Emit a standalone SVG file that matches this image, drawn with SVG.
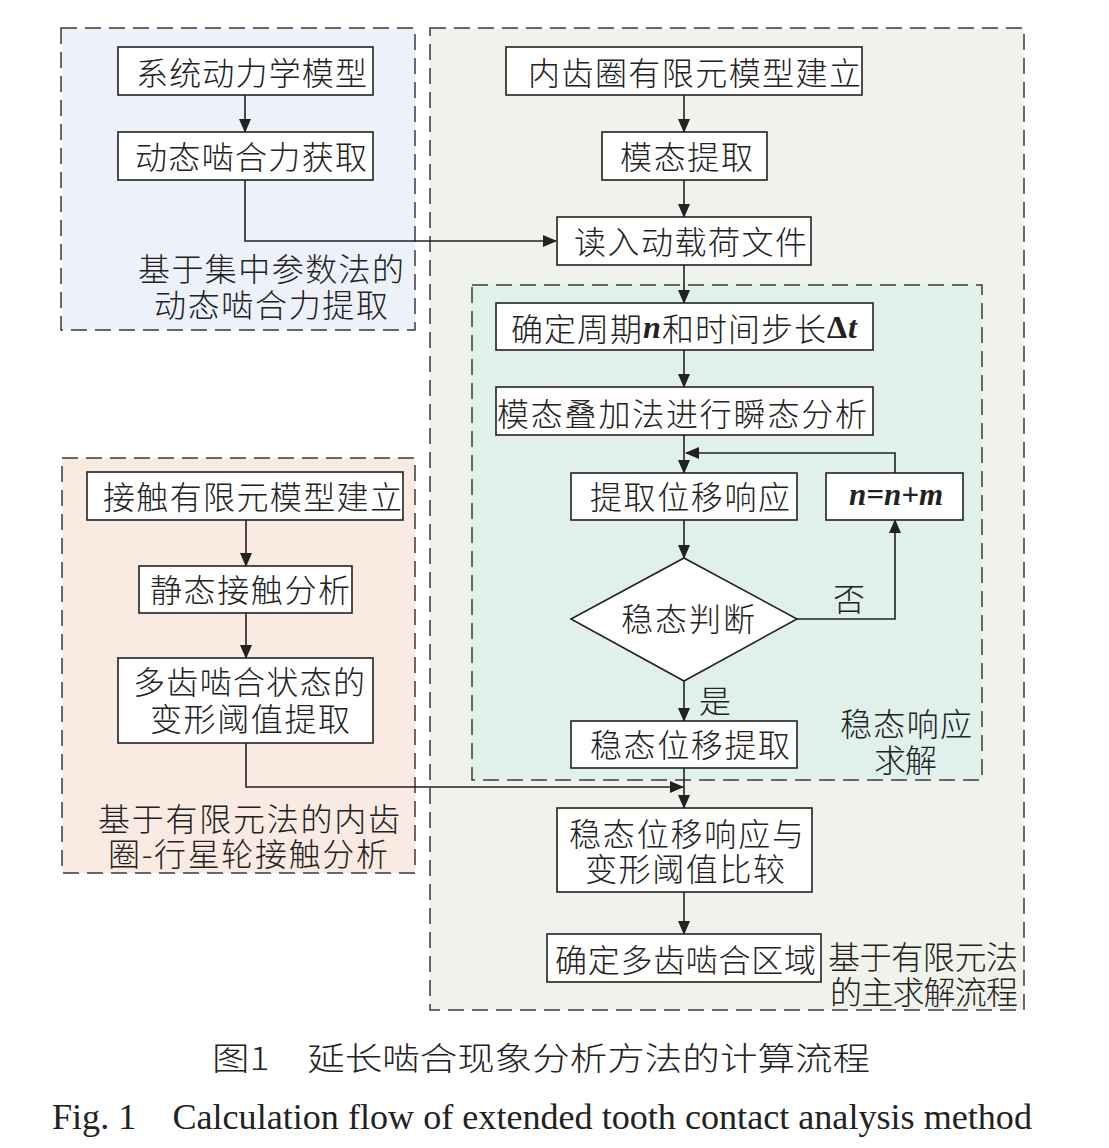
<svg xmlns="http://www.w3.org/2000/svg" width="1109" height="1148" viewBox="0 0 1109 1148">
<style>
.grp{stroke:#3a3a3a;stroke-width:1.5;stroke-dasharray:16 8}
.box{fill:#fff;stroke:#222;stroke-width:1.6}
.t{font-family:"Noto Sans CJK SC","Noto Sans CJK JP",sans-serif;font-size:32px;font-weight:300;fill:#222;dominant-baseline:central;text-anchor:start}
.it{font-family:"Liberation Serif",serif;font-style:italic;font-weight:bold}
.cn{font-family:"Liberation Serif","Noto Sans CJK SC",serif;font-size:36px;fill:#222}
.con{fill:none;stroke:#222;stroke-width:1.6}
</style>
<defs>
<marker id="ah" markerWidth="14" markerHeight="12" refX="13" refY="6" orient="auto" markerUnits="userSpaceOnUse">
<path d="M0,0 L14,6 L0,12 Z" fill="#222"/>
</marker>
</defs>
<rect width="1109" height="1148" fill="#fff"/>
<g id="groups">
<rect class="grp" x="61" y="28" width="354" height="302" fill="#edf1fa"/>
<rect class="grp" x="430" y="28" width="594" height="982" fill="#f0f3eb"/>
<rect class="grp" x="472" y="285" width="510" height="495" fill="#e0f0eb"/>
<rect class="grp" x="62" y="458" width="353" height="415" fill="#f9ebe2"/>
</g>
<g id="group-labels">
<text class="t"><tspan x="138" y="267" textLength="266" lengthAdjust="spacing">基于集中参数法的</tspan><tspan x="154" y="303" textLength="234" lengthAdjust="spacing">动态啮合力提取</tspan></text>
<text class="t"><tspan x="840" y="722" textLength="132" lengthAdjust="spacing">稳态响应</tspan><tspan x="874" y="758" textLength="63" lengthAdjust="spacing">求解</tspan></text>
<text class="t"><tspan x="98" y="817" textLength="302" lengthAdjust="spacing">基于有限元法的内齿</tspan><tspan x="108" y="852" textLength="280" lengthAdjust="spacing">圈-行星轮接触分析</tspan></text>
<text class="t"><tspan x="828" y="955" textLength="190" lengthAdjust="spacing">基于有限元法</tspan><tspan x="830" y="990" textLength="188" lengthAdjust="spacing">的主求解流程</tspan></text>
</g>
<g id="connectors">
<path class="con" d="M245,95 V132" marker-end="url(#ah)"/>
<path class="con" d="M245,180 V241 H556" marker-end="url(#ah)"/>
<path class="con" d="M684,95 V132" marker-end="url(#ah)"/>
<path class="con" d="M684,180 V217" marker-end="url(#ah)"/>
<path class="con" d="M684,265 V303" marker-end="url(#ah)"/>
<path class="con" d="M684,350 V387" marker-end="url(#ah)"/>
<path class="con" d="M684,435 V473" marker-end="url(#ah)"/>
<path class="con" d="M895,473 V453 H686" marker-end="url(#ah)"/>
<path class="con" d="M684,520 V558" marker-end="url(#ah)"/>
<path class="con" d="M797,619 H895 V520" marker-end="url(#ah)"/>
<path class="con" d="M684,681 V721" marker-end="url(#ah)"/>
<path class="con" d="M684,768 V808" marker-end="url(#ah)"/>
<path class="con" d="M246,743 V787 H683" marker-end="url(#ah)"/>
<path class="con" d="M246,520 V566" marker-end="url(#ah)"/>
<path class="con" d="M246,613 V658" marker-end="url(#ah)"/>
<path class="con" d="M684,892 V934" marker-end="url(#ah)"/>
<text class="t" x="833" y="597" textLength="30" lengthAdjust="spacing">否</text>
<text class="t" x="699" y="699" textLength="29" lengthAdjust="spacing">是</text>
</g>
<g id="n1"><rect class="box" x="118" y="47" width="255" height="48"/><text class="t" x="136" y="71" textLength="231" lengthAdjust="spacing">系统动力学模型</text></g>
<g id="n2"><rect class="box" x="118" y="132" width="255" height="48"/><text class="t" x="135" y="155" textLength="232" lengthAdjust="spacing">动态啮合力获取</text></g>
<g id="n3"><rect class="box" x="506" y="47" width="356" height="48"/><text class="t" x="528" y="71" textLength="333" lengthAdjust="spacing">内齿圈有限元模型建立</text></g>
<g id="n4"><rect class="box" x="602" y="132" width="165" height="48"/><text class="t" x="620" y="155" textLength="133" lengthAdjust="spacing">模态提取</text></g>
<g id="n5"><rect class="box" x="557" y="217" width="254" height="48"/><text class="t" x="574" y="240" textLength="233" lengthAdjust="spacing">读入动载荷文件</text></g>
<g id="n6"><rect class="box" x="496" y="303" width="377" height="47"/><text class="t" x="511" y="327" textLength="346" lengthAdjust="spacing">确定周期<tspan class="it">n</tspan>和时间步长<tspan font-family="Liberation Serif" font-weight="bold">Δ</tspan><tspan class="it">t</tspan></text></g>
<g id="n7"><rect class="box" x="496" y="387" width="377" height="48"/><text class="t" x="497" y="412" textLength="370" lengthAdjust="spacing">模态叠加法进行瞬态分析</text></g>
<g id="n8"><rect class="box" x="571" y="473" width="226" height="47"/><text class="t" x="590" y="495" textLength="200" lengthAdjust="spacing">提取位移响应</text></g>
<g id="n9"><rect class="box" x="826" y="473" width="137" height="47"/><text class="it" x="849" y="505" font-size="31" fill="#222" textLength="94" lengthAdjust="spacing">n=n+m</text></g>
<g id="n10"><path class="box" d="M684,558 L797,619 L684,681 L571,619 Z"/><text class="t" x="621" y="617" textLength="134" lengthAdjust="spacing">稳态判断</text></g>
<g id="n11"><rect class="box" x="571" y="721" width="226" height="47"/><text class="t" x="590" y="743" textLength="200" lengthAdjust="spacing">稳态位移提取</text></g>
<g id="n12"><rect class="box" x="87" y="472" width="316" height="48"/><text class="t" x="103" y="495" textLength="299" lengthAdjust="spacing">接触有限元模型建立</text></g>
<g id="n13"><rect class="box" x="139" y="566" width="213" height="47"/><text class="t" x="150" y="588" textLength="200" lengthAdjust="spacing">静态接触分析</text></g>
<g id="n14"><rect class="box" x="118" y="658" width="255" height="85"/><text class="t"><tspan x="133" y="680" textLength="232" lengthAdjust="spacing">多齿啮合状态的</tspan><tspan x="150" y="717" textLength="200" lengthAdjust="spacing">变形阈值提取</tspan></text></g>
<g id="n15"><rect class="box" x="557" y="808" width="255" height="84"/><text class="t"><tspan x="569" y="832" textLength="235" lengthAdjust="spacing">稳态位移响应与</tspan><tspan x="585" y="867" textLength="200" lengthAdjust="spacing">变形阈值比较</tspan></text></g>
<g id="n16"><rect class="box" x="547" y="934" width="274" height="48"/><text class="t" x="555" y="958" textLength="261" lengthAdjust="spacing">确定多齿啮合区域</text></g>
<g id="caption">
<text class="cn" x="212" y="1070" textLength="658" lengthAdjust="spacingAndGlyphs" style="font-family:'Noto Sans CJK SC',sans-serif;font-weight:300;font-size:32px">图1　延长啮合现象分析方法的计算流程</text>
<text class="cn" x="52" y="1129" textLength="980" lengthAdjust="spacingAndGlyphs">Fig. 1　Calculation flow of extended tooth contact analysis method</text>
</g>
</svg>
